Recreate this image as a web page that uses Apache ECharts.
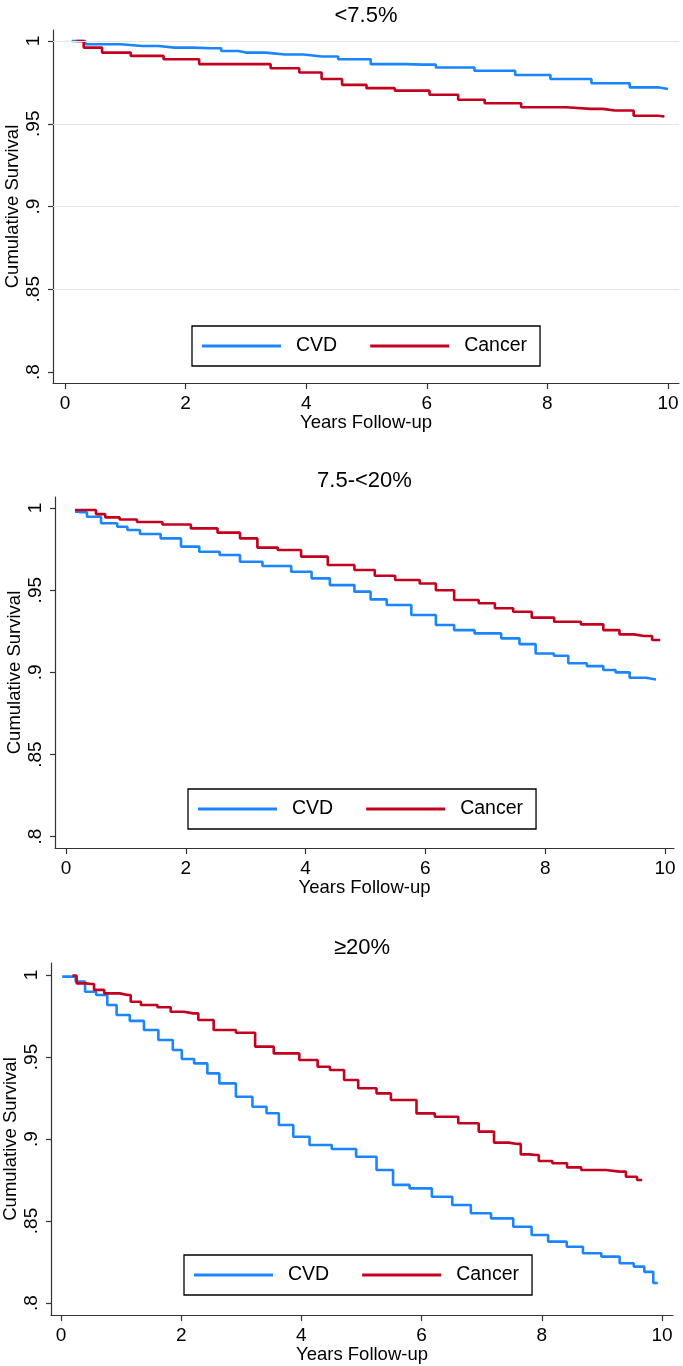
<!DOCTYPE html>
<html><head><meta charset="utf-8">
<script src="https://cdn.jsdelivr.net/npm/echarts@6/dist/echarts.min.js"></script>
<style>html,body{margin:0;padding:0;background:#fff}#c{width:683px;height:1366px}</style>
</head><body><div id="c"></div>
<script>
// ---- data (time in years, cumulative survival) ----
const panelTitles = ['<7.5%', '7.5-<20%', '\u226520%'];
const seriesNames = ['CVD', 'Cancer'];
const xTicks = [0, 2, 4, 6, 8, 10];
const yTicks = [0.8, 0.85, 0.9, 0.95, 1];
const xTitle = 'Years Follow-up';
const yTitle = 'Cumulative Survival';

const cvdLow = [[0.11,1.0],[0.57,0.998],[1.28,0.997],[1.82,0.996],[2.43,0.9956],[2.75,0.994],[3.0,0.993],[3.65,0.9918],[4.26,0.9906],[4.8,0.989],[5.34,0.986],[5.95,0.9857],[6.35,0.984],[7.23,0.982],[7.7,0.9795],[8.4,0.977],[9.06,0.9745],[9.67,0.972],[10.0,0.971]];
const cancerLow = [[0.19,1.0],[0.43,0.996],[0.8,0.993],[1.38,0.991],[1.89,0.989],[2.56,0.986],[3.17,0.986],[3.65,0.9835],[4.12,0.981],[4.39,0.977],[4.8,0.9735],[5.2,0.9715],[5.74,0.970],[6.35,0.9675],[6.69,0.9645],[7.23,0.9624],[7.9,0.960],[8.72,0.959],[9.12,0.958],[9.74,0.9548],[9.94,0.9544]];

const cvdMid = [[0.15,0.9978],[0.25,0.9974],[0.45,0.9947],[0.72,0.9907],[0.99,0.9886],[1.06,0.9866],[1.41,0.9842],[1.75,0.9815],[2.09,0.9765],[2.36,0.9734],[2.77,0.9714],[3.04,0.9673],[3.52,0.9647],[4.0,0.9612],[4.2,0.9572],[4.61,0.9531],[5.02,0.9491],[5.15,0.9444],[5.56,0.941],[5.97,0.9349],[6.38,0.9288],[6.58,0.9257],[7.06,0.9237],[7.47,0.9207],[7.67,0.9172],[8.01,0.9115],[8.28,0.9101],[8.49,0.9055],[8.9,0.9038],[9.04,0.9014],[9.31,0.90],[9.51,0.8967],[9.85,0.8957]];
const cancerMid = [[0.15,0.9988],[0.45,0.9988],[0.55,0.9963],[0.76,0.9943],[1.03,0.993],[1.34,0.9915],[1.88,0.990],[2.29,0.9876],[2.77,0.985],[3.04,0.9815],[3.35,0.9759],[3.72,0.9744],[4.13,0.9704],[4.61,0.9653],[5.02,0.9623],[5.29,0.9588],[5.7,0.9562],[6.11,0.9541],[6.24,0.950],[6.72,0.944],[7.06,0.942],[7.26,0.939],[7.67,0.9369],[7.88,0.9333],[8.42,0.9308],[8.77,0.9292],[9.17,0.9257],[9.31,0.9231],[9.65,0.9221],[9.92,0.9197]];

const cvdHigh = [[0.02,0.999],[0.16,0.999],[0.33,0.996],[0.47,0.9898],[0.70,0.9878],[0.84,0.9817],[1.01,0.9756],[1.28,0.972],[1.48,0.9665],[1.76,0.9604],[1.96,0.9543],[2.06,0.9488],[2.37,0.9461],[2.5,0.94],[2.77,0.9339],[3.05,0.9258],[3.32,0.9197],[3.52,0.9157],[3.73,0.9085],[4.0,0.9014],[4.27,0.8963],[4.74,0.8939],[5.08,0.8892],[5.42,0.8811],[5.63,0.872],[5.97,0.8699],[6.37,0.8648],[6.65,0.8598],[6.99,0.8547],[7.32,0.8516],[7.73,0.8465],[7.93,0.8415],[8.28,0.8374],[8.55,0.8343],[8.82,0.8303],[9.16,0.8283],[9.43,0.8242],[9.63,0.8222],[9.78,0.819],[9.93,0.8122]];
const cancerHigh = [[0.19,0.9996],[0.33,0.9949],[0.5,0.9945],[0.6,0.9909],[0.84,0.9888],[1.11,0.9878],[1.21,0.9837],[1.45,0.9817],[1.76,0.9803],[1.89,0.9776],[2.2,0.9766],[2.37,0.9726],[2.71,0.9665],[3.11,0.9648],[3.35,0.9563],[3.73,0.9522],[4.2,0.9482],[4.34,0.9441],[4.61,0.9421],[4.81,0.936],[5.08,0.9309],[5.42,0.9278],[5.56,0.9238],[5.83,0.9238],[6.0,0.9156],[6.44,0.9136],[6.78,0.9096],[7.12,0.9045],[7.29,0.8978],[7.6,0.897],[7.7,0.8906],[7.9,0.8902],[8.0,0.8866],[8.35,0.8852],[8.49,0.8827],[8.82,0.8811],[9.3,0.8801],[9.5,0.877],[9.67,0.875]];

const gridValuesLow = [1, 0.95, 0.9, 0.85];

// ---- layout (pixels) ----
const layout = [
  {axL:53, axR:679, axT:30,  axB:383,  x0:65, x10:668, y1:41,  y08:372,   titleY:16,  legL:192, legT:326},
  {axL:55, axR:674, axT:497, axB:848,  x0:66, x10:665, y1:508, y08:836.7, titleY:481, legL:188, legT:789},
  {axL:51, axR:673, axT:963, axB:1315, x0:61, x10:662, y1:975, y08:1303,  titleY:948, legL:184, legT:1255}
];
const panelData = [[cvdLow, cancerLow], [cvdMid, cancerMid], [cvdHigh, cancerHigh]];
const colors = ['#1a85ff', '#c4001f'];
const FONT = 'Liberation Sans, Arial, sans-serif';
const axisColor = '#333';

const grids = [], xAxes = [], yAxes = [], series = [], legends = [], graphics = [];
layout.forEach((L, i) => {
  const xmin = (L.axL - L.x0) / (L.x10 - L.x0) * 10;
  const xmax = (L.axR - L.x0) / (L.x10 - L.x0) * 10;
  const ymax = 1 + (L.y1 - L.axT) / (L.y08 - L.y1) * 0.2;
  const ymin = 0.8 - (L.axB - L.y08) / (L.y08 - L.y1) * 0.2;
  grids.push({left: L.axL, top: L.axT, width: L.axR - L.axL, height: L.axB - L.axT,
    containLabel: false, outerBoundsMode: 'none'});
  xAxes.push({
    type: 'value', gridIndex: i, min: xmin, max: xmax,
    axisLine: {show: true, onZero: false, lineStyle: {color: axisColor, width: 1.2}},
    axisTick: {show: true, length: 6, customValues: xTicks, lineStyle: {color: axisColor, width: 1.2}},
    axisLabel: {customValues: xTicks, fontSize: 19, color: '#000', margin: 11, fontFamily: FONT},
    splitLine: {show: false},
    name: xTitle, nameLocation: 'middle', nameGap: 30, nameMoveOverlap: false,
    nameTextStyle: {fontSize: 18.5, color: '#000', fontFamily: FONT}
  });
  yAxes.push({
    type: 'value', gridIndex: i, min: ymin, max: ymax,
    axisLine: {show: true, onZero: false, lineStyle: {color: axisColor, width: 1.2}},
    axisTick: {show: true, length: 5, customValues: yTicks, lineStyle: {color: axisColor, width: 1.2}},
    axisLabel: {customValues: yTicks, rotate: 90, fontSize: 19, color: '#000', margin: 10, fontFamily: FONT,
      formatter: v => (Math.abs(v - 1) < 1e-9 ? '1' : String(+v.toFixed(2)).replace(/^0/, ''))},
    splitLine: {show: false},
    name: yTitle, nameLocation: 'middle', nameGap: 31, nameRotate: 90, nameMoveOverlap: false,
    nameTextStyle: {fontSize: 18.5, color: '#000', fontFamily: FONT}
  });
  if (i === 0) {
    series.push({
      type: 'line', name: 'gridlines', xAxisIndex: i, yAxisIndex: i, data: [], z: 1, silent: true,
      markLine: {silent: true, symbol: ['none', 'none'], label: {show: false}, animation: false,
        lineStyle: {color: '#e4e4e4', type: 'solid', width: 1},
        data: gridValuesLow.map(v => ({yAxis: v}))}
    });
  }
  panelData[i].forEach((d, k) => {
    series.push({
      type: 'line', name: seriesNames[k], xAxisIndex: i, yAxisIndex: i, data: d,
      step: 'middle', showSymbol: false, symbol: 'none', z: 3,
      lineStyle: {color: colors[k], width: 2.6}, itemStyle: {color: colors[k]},
      emphasis: {disabled: true}
    });
  });
  legends.push({
    data: seriesNames, left: L.legL, top: L.legT, orient: 'horizontal',
    icon: 'rect', itemWidth: 79, itemHeight: 3, itemGap: 33,
    borderColor: '#000', borderWidth: 1.3, padding: [10, 13, 10, 10],
    textStyle: {fontSize: 19.5, color: '#000', fontFamily: FONT, padding: [0, 0, 0, 10]},
    selectedMode: false
  });
  graphics.push({
    type: 'text', x: (L.axL + L.axR) / 2, y: L.titleY,
    style: {text: panelTitles[i], fill: '#000', font: '22px ' + FONT, textAlign: 'center', textVerticalAlign: 'middle'}
  });
});

const chart = echarts.init(document.getElementById('c'), null, {renderer: 'canvas'});
chart.setOption({
  animation: false,
  backgroundColor: '#fff',
  color: colors,
  grid: grids, xAxis: xAxes, yAxis: yAxes, series: series, legend: legends,
  graphic: graphics
});
</script></body></html>
